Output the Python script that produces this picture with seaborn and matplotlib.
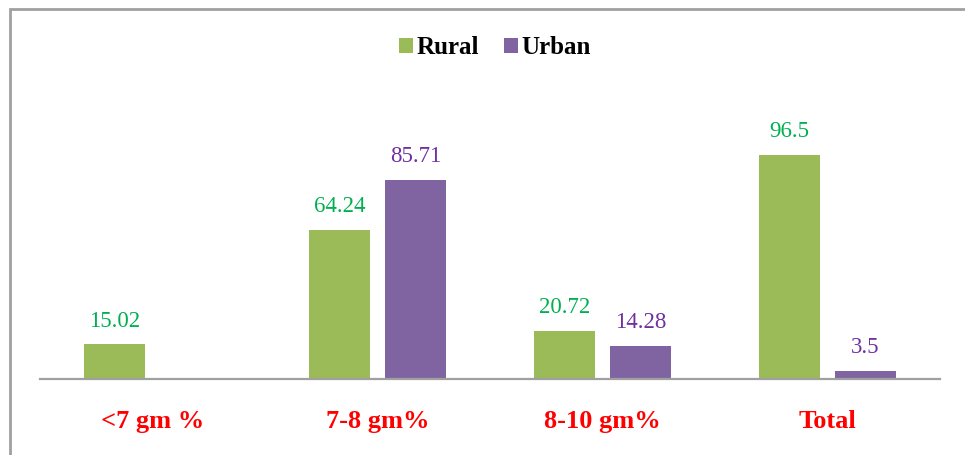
import matplotlib
matplotlib.use("Agg")
import matplotlib.pyplot as plt
import seaborn as sns
import pandas as pd
import numpy as np
from matplotlib.patches import Rectangle, Patch

categories = ["<7 gm %", "7-8 gm%", "8-10 gm%", "Total"]
rural = [15.02, 64.24, 20.72, 96.5]
urban = [np.nan, 85.71, 14.28, 3.5]
series = ["Rural", "Urban"]
bar_colors = ["#9BBB59", "#8064A2"]
label_colors = ["#00B050", "#7030A0"]

rows = []
for c, r, u in zip(categories, rural, urban):
    rows.append({"cat": c, "group": "Rural", "val": r})
    rows.append({"cat": c, "group": "Urban", "val": u})
df = pd.DataFrame(rows).dropna()

sns.set_theme(style="white")
plt.rcParams["font.family"] = ["Liberation Serif", "DejaVu Serif"]

W, H = 965, 455
fig = plt.figure(figsize=(W / 100, H / 100), dpi=100)
ax = fig.add_axes([40 / W, 76 / H, 900 / W, 279 / H])

# outer frame
fig.patches.append(Rectangle((10 / W, -0.1), 1.2, (455 - 9) / H + 0.1,
                             transform=fig.transFigure, fill=False,
                             edgecolor="#A0A0A0", linewidth=2.0))

sns.barplot(data=df, x="cat", y="val", hue="group", order=categories,
            hue_order=series, palette=bar_colors, width=0.676, gap=0.21,
            ax=ax, legend=False, saturation=1, linewidth=0)

ax.set_ylim(0, 120)
ax.set_xlim(-0.5, 3.5)
for i, cont in enumerate(ax.containers):
    labels = []
    for v in cont.datavalues:
        labels.append("" if np.isnan(v) else f"{v:g}")
    ax.bar_label(cont, labels=labels, padding=9, color=label_colors[i],
                 fontsize=16.5)

for s in ["top", "left", "right"]:
    ax.spines[s].set_visible(False)
ax.spines["bottom"].set_color("#A0A0A0")
ax.spines["bottom"].set_linewidth(1.6)
ax.set_yticks([])
ax.set_xlabel("")
ax.set_ylabel("")
ax.tick_params(axis="x", length=0, pad=22)
for t in ax.get_xticklabels():
    t.set_color("#FF0000")
    t.set_fontweight("bold")
    t.set_fontsize(19)

handles = [Patch(facecolor=c, edgecolor="none") for c in bar_colors]
leg = fig.legend(handles, series, loc="center", bbox_to_anchor=(495 / W, 1 - 48 / H),
                 ncol=2, frameon=False, prop={"weight": "bold", "size": 18},
                 handlelength=0.55, handleheight=0.55, handletextpad=0.15,
                 columnspacing=1.0)
for t in leg.get_texts():
    t.set_color("black")

fig.savefig("out.png", dpi=100)
